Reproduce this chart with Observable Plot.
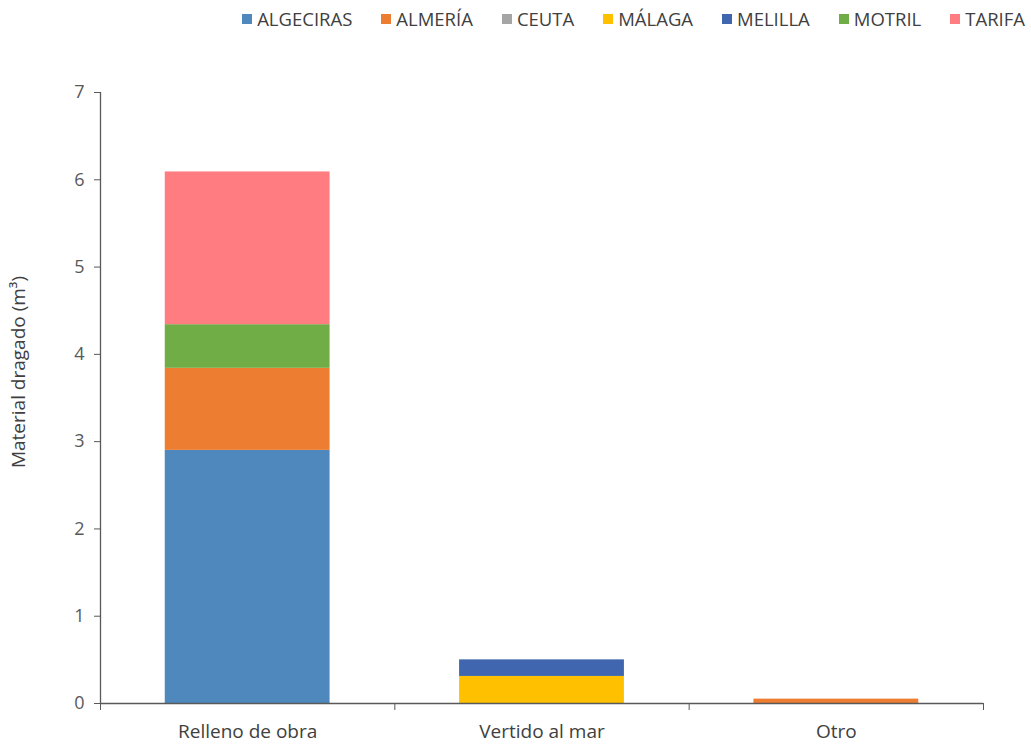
<!DOCTYPE html>
<html><head><meta charset="utf-8">
<script src="https://cdn.jsdelivr.net/npm/d3@7"></script>
<script src="https://cdn.jsdelivr.net/npm/@observablehq/plot@0.6"></script>
<style>
body{margin:0;background:#fff;font-family:"Open Sans",sans-serif;}
#legend{height:40px;display:flex;justify-content:flex-end;align-items:center;gap:29px;padding-right:6px;font-size:18.5px;color:#404040;box-sizing:border-box;padding-bottom:3px;}
#legend .it{display:flex;align-items:center;gap:5px;}
#legend .sw{width:10px;height:10px;display:inline-block;}
svg{display:block;}
</style>
</head><body>
<div id="legend"></div>
<div id="chart"></div>
<script>
const categories = ["Relleno de obra", "Vertido al mar", "Otro"];
const ports = ["ALGECIRAS", "ALMERÍA", "CEUTA", "MÁLAGA", "MELILLA", "MOTRIL", "TARIFA"];
const colors = ["#4F88BD", "#ED7D31", "#A5A5A5", "#FFC000", "#3F66AE", "#70AD47", "#FF7C80"];
const algeciras = [2.90, 0, 0];
const almeria   = [0.94, 0, 0.05];
const ceuta     = [0, 0, 0];
const malaga    = [0, 0.31, 0];
const melilla   = [0, 0.19, 0];
const motril    = [0.50, 0, 0];
const tarifa    = [1.75, 0, 0];
const yTicks = [0, 1, 2, 3, 4, 5, 6, 7];
const yLabel = "Material dragado (m³)";

const series = [algeciras, almeria, ceuta, malaga, melilla, motril, tarifa];
const rows = [];
categories.forEach((c, i) => {
  ports.forEach((p, j) => rows.push({i, cat: c, port: p, value: series[j][i]}));
});

// legend
const lg = document.getElementById("legend");
ports.forEach((p, j) => {
  const it = document.createElement("span"); it.className = "it";
  const sw = document.createElement("span"); sw.className = "sw"; sw.style.background = colors[j];
  const t = document.createElement("span"); t.textContent = p;
  it.appendChild(sw); it.appendChild(t); lg.appendChild(it);
});

const half = 0.28;
const chart = Plot.plot({
  width: 1031,
  height: 704,
  marginLeft: 100,
  marginRight: 48,
  marginTop: 52,
  marginBottom: 41,
  style: {fontFamily: "'Open Sans', sans-serif", fontSize: "18px", color: "#595959", background: "#fff"},
  x: {type: "linear", domain: [-0.5, 2.5]},
  y: {domain: [0, 7]},
  color: {domain: ports, range: colors},
  marks: [
    Plot.rectY(rows.filter(d => d.value > 0), Plot.stackY({
      x1: d => d.i - half, x2: d => d.i + half, y: "value", fill: "port", order: ports
    })),
    Plot.ruleY([0], {stroke: "#595959", strokeWidth: 1.3}),
    Plot.ruleX([-0.5], {stroke: "#595959", strokeWidth: 1.3}),
    Plot.axisY({ticks: yTicks, tickSize: 6, tickPadding: 10, tickFormat: d3.format("d"), label: null, stroke: "#595959", fill: "#595959", fontSize: 18}),
    Plot.axisX({ticks: [-0.5, 0.5, 1.5, 2.5], tickSize: 7, tickFormat: () => "", label: null, stroke: "#595959"}),
    Plot.axisX({ticks: [0, 1, 2], tickSize: 0, tickPadding: 21, tickFormat: i => categories[i], label: null, fill: "#404040", fontSize: 19}),
    Plot.text([yLabel], {frameAnchor: "left", textAnchor: "middle", rotate: -90, dx: -82, dy: -26, fill: "#404040", fontSize: 19})
  ]
});
document.getElementById("chart").appendChild(chart);
</script>
</body></html>
